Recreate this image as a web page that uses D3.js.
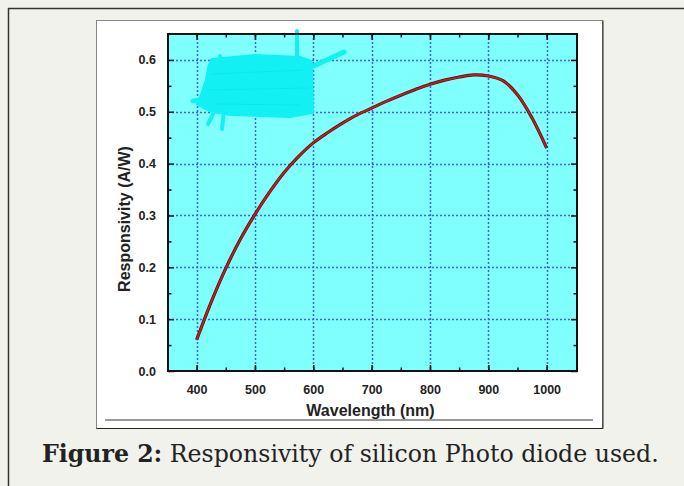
<!DOCTYPE html>
<html>
<head>
<meta charset="utf-8">
<script src="https://cdn.jsdelivr.net/npm/d3@7"></script>
<style>
  html, body { margin: 0; padding: 0; background: #f2f2ed; }
  svg { display: block; }
  .tick text { font-family: "Liberation Sans", Arial, sans-serif; font-weight: bold; fill: #222; }
</style>
</head>
<body>
<div id="chart"></div>
<script>
// responsivity curve
var wavelength = [400, 425, 450, 475, 500, 525, 550, 575, 600, 625, 650, 675, 700,
                  725, 750, 775, 800, 825, 850, 875, 900, 925, 950, 975, 1000];
var responsivity = [0.06, 0.133, 0.198, 0.254, 0.302, 0.345, 0.383, 0.414, 0.44, 0.46, 0.478, 0.494, 0.507,
                    0.52, 0.532, 0.543, 0.553, 0.561, 0.567, 0.571, 0.569, 0.56, 0.533, 0.488, 0.43];
var xTicks = [400, 500, 600, 700, 800, 900, 1000];
var yTicks = [0.0, 0.1, 0.2, 0.3, 0.4, 0.5, 0.6];
var xMinor = [400, 450, 500, 550, 600, 650, 700, 750, 800, 850, 900, 950, 1000];
var yMinor = [0.05, 0.15, 0.25, 0.35, 0.45, 0.55];
var xTitle = "Wavelength (nm)";
var yTitle = "Responsivity (A/W)";

var W = 684, H = 486;
var plot = { left: 168, top: 34, right: 577, bottom: 371 };

var svg = d3.select("#chart").append("svg")
	.attr("width", W)
	.attr("height", H);

// page background and frame
svg.append("rect").attr("width", W).attr("height", H).attr("fill", "#f2f2ed");
svg.append("line").attr("x1", 8).attr("x2", W).attr("y1", 8.5).attr("y2", 8.5)
	.attr("stroke", "#333").attr("stroke-width", 1.5);
svg.append("line").attr("x1", 8.5).attr("x2", 8.5).attr("y1", 8).attr("y2", H)
	.attr("stroke", "#333").attr("stroke-width", 1.5);

// white figure box
svg.append("rect").attr("x", 96.5).attr("y", 20.5).attr("width", 506).attr("height", 408)
	.attr("fill", "#fff").attr("stroke", "#888");
svg.append("path").attr("d", "M603,20.5V428.5H96.5")
	.attr("fill", "none").attr("stroke", "#222");
svg.append("line").attr("x1", 105).attr("x2", 593).attr("y1", 420).attr("y2", 420)
	.attr("stroke", "#999").attr("stroke-width", 2);

var x = d3.scaleLinear().domain([351, 1052]).range([plot.left, plot.right]);
var y = d3.scaleLinear().domain([0, 0.65]).range([plot.bottom, plot.top]);

var g = svg.append("g");

// plot background with a soft shadow
g.append("rect").attr("x", plot.left + 1).attr("y", plot.top + 1)
	.attr("width", plot.right - plot.left).attr("height", plot.bottom - plot.top)
	.attr("fill", "#999").attr("opacity", 0.5);
g.append("rect").attr("x", plot.left).attr("y", plot.top)
	.attr("width", plot.right - plot.left).attr("height", plot.bottom - plot.top)
	.attr("fill", "#80ffff");

// dotted grid
g.selectAll(".vgrid").data(xTicks).enter().append("line")
	.attr("class", "vgrid")
	.attr("x1", function (d) { return Math.round(x(d)) + 0.5; })
	.attr("x2", function (d) { return Math.round(x(d)) + 0.5; })
	.attr("y1", plot.top).attr("y2", plot.bottom)
	.attr("stroke", "#3d62f2").attr("stroke-width", 1.5).attr("stroke-dasharray", "2,2");
g.selectAll(".hgrid").data(yTicks.slice(1)).enter().append("line")
	.attr("class", "hgrid")
	.attr("y1", function (d) { return Math.round(y(d)) + 0.5; })
	.attr("y2", function (d) { return Math.round(y(d)) + 0.5; })
	.attr("x1", plot.left).attr("x2", plot.right)
	.attr("stroke", "#3d62f2").attr("stroke-width", 1.5).attr("stroke-dasharray", "2,2");

// scribble over the old legend
var scrib = g.append("g").attr("stroke", "#12f0f4").attr("fill", "none")
	.attr("stroke-linecap", "round").attr("stroke-linejoin", "round");
scrib.append("path").attr("fill", "#12f0f4").attr("stroke-width", 4)
	.attr("d", "M212,60 L255,56 L300,58 L311,62 L312,112 L290,116 L230,114 L210,110 L198,104 L203,92 L207,80 L209,68 Z");
scrib.append("path").attr("stroke", "#0ee6ec").attr("stroke-width", 1)
	.attr("d", "M212,74 L305,70 M208,90 L308,88 M216,104 L300,105");
scrib.append("path").attr("stroke-width", 4).attr("d", "M297,31 L297,58");
scrib.append("path").attr("stroke-width", 5).attr("d", "M305,70 L344,52");
scrib.append("path").attr("stroke-width", 4).attr("d", "M224,110 L222,129");
scrib.append("path").attr("stroke-width", 4).attr("d", "M216,108 L208,124");
scrib.append("path").attr("stroke-width", 5).attr("d", "M193,101 L215,98");
scrib.append("path").attr("stroke-width", 4).attr("d", "M220,56 L221,62");

// curve
var line = d3.line()
	.x(function (d, i) { return x(wavelength[i]); })
	.y(function (d) { return y(d); })
	.curve(d3.curveCatmullRom);
g.append("path").datum(responsivity).attr("d", line)
	.attr("fill", "none").attr("stroke", "#222").attr("stroke-width", 3.2);
g.append("path").datum(responsivity).attr("d", line)
	.attr("fill", "none").attr("stroke", "#e0100c").attr("stroke-width", 1.8);

// axes: ticks point inward on all four sides
var axB = g.append("g").attr("transform", "translate(0," + plot.bottom + ")")
	.call(d3.axisBottom(x).tickValues(xTicks).tickSize(-6).tickPadding(14).tickFormat(d3.format("d")));
var axL = g.append("g").attr("transform", "translate(" + plot.left + ",0)")
	.call(d3.axisLeft(y).tickValues(yTicks).tickSize(-6).tickPadding(12).tickFormat(d3.format(".1f")));
var axT = g.append("g").attr("transform", "translate(0," + plot.top + ")")
	.call(d3.axisTop(x).tickValues(xTicks).tickSize(-6).tickFormat(""));
var axR = g.append("g").attr("transform", "translate(" + plot.right + ",0)")
	.call(d3.axisRight(y).tickValues(yTicks).tickSize(-6).tickFormat(""));
g.append("g").attr("transform", "translate(0," + plot.bottom + ")")
	.call(d3.axisBottom(x).tickValues(xMinor).tickSize(-3.5).tickFormat(""));
g.append("g").attr("transform", "translate(0," + plot.top + ")")
	.call(d3.axisTop(x).tickValues(xMinor).tickSize(-3.5).tickFormat(""));
g.append("g").attr("transform", "translate(" + plot.left + ",0)")
	.call(d3.axisLeft(y).tickValues(yMinor).tickSize(-3.5).tickFormat(""));
g.append("g").attr("transform", "translate(" + plot.right + ",0)")
	.call(d3.axisRight(y).tickValues(yMinor).tickSize(-3.5).tickFormat(""));

g.selectAll(".domain").remove();
g.selectAll(".tick line").attr("stroke", "#111").attr("stroke-width", 1.5);
g.selectAll(".tick text").attr("font-size", 12.5);

// plot border
g.append("rect").attr("x", plot.left).attr("y", plot.top)
	.attr("width", plot.right - plot.left).attr("height", plot.bottom - plot.top)
	.attr("fill", "none").attr("stroke", "#111").attr("stroke-width", 2);

// axis titles
svg.append("text").text(xTitle)
	.attr("x", (plot.left + plot.right) / 2 - 2).attr("y", 416)
	.attr("text-anchor", "middle")
	.attr("font-family", "Liberation Sans, Arial, sans-serif")
	.attr("font-weight", "bold").attr("font-size", 16).attr("fill", "#222");
svg.append("text").text(yTitle)
	.attr("transform", "translate(130,219) rotate(-90)")
	.attr("text-anchor", "middle")
	.attr("font-family", "Liberation Sans, Arial, sans-serif")
	.attr("font-weight", "bold").attr("font-size", 16).attr("fill", "#222");

// caption
var cap = svg.append("text").attr("x", 42).attr("y", 462)
	.attr("font-family", "DejaVu Serif, serif").attr("font-size", 20).attr("fill", "#222");
cap.append("tspan").attr("font-weight", "bold").text("Figure 2:");
cap.append("tspan").text(" Responsivity of silicon Photo diode used.");
var len = cap.node().getComputedTextLength();
cap.attr("font-size", 20 * 617 / len);
</script>
</body>
</html>
